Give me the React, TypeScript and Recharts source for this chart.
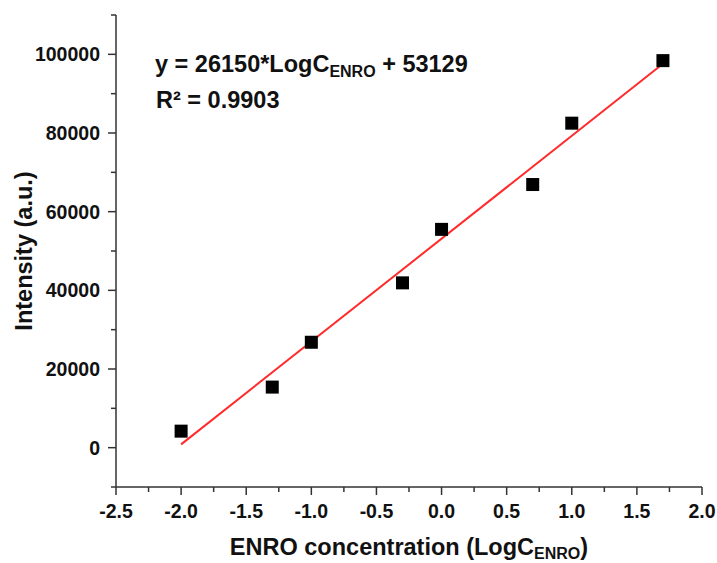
import {
  ComposedChart,
  Scatter,
  Line,
  XAxis,
  YAxis,
} from 'recharts';

// measured points (LogC, intensity)
const logC = [-2.0, -1.3, -1.0, -0.3, 0.0, 0.7, 1.0, 1.7];
const intensity = [4200, 15400, 26800, 41900, 55500, 66900, 82500, 98400];

// linear fit as printed on the chart
const slope = 26150;
const intercept = 53129;
const fitRange = [-2.0, 1.7];

const xTicks = [-2.5, -2.0, -1.5, -1.0, -0.5, 0.0, 0.5, 1.0, 1.5, 2.0];
const yTicks = [0, 20000, 40000, 60000, 80000, 100000];
const yMinorTicks = [-10000, 10000, 30000, 50000, 70000, 90000, 110000];

const points = logC.map((x, i) => ({ x, y: intensity[i] }));
const fitLine = fitRange.map((x) => ({ x, fit: slope * x + intercept }));

const FONT = '"Liberation Sans", Arial, Helvetica, sans-serif';
const AXIS = '#333333';

const Square = (props: any) => {
  const { cx, cy } = props;
  if (cx == null || cy == null) return null;
  return <rect x={cx - 6.5} y={cy - 6.5} width={13} height={13} fill='#000' />;
};

const App = () => {
  return (
    <div style={{ position: 'absolute', left: 0, top: 0, width: 717, height: 563, background: '#fff' }}>
      <ComposedChart
        width={717}
        height={563}
        margin={{ top: 15, right: 15, left: 0, bottom: 0 }}
        style={{ fontFamily: FONT }}
      >
        <XAxis
          type='number'
          dataKey='x'
          domain={[-2.5, 2.0]}
          ticks={xTicks}
          allowDataOverflow
          height={76}
          tickFormatter={(v: number) => v.toFixed(1)}
          tick={{ fontSize: 19.5, fontWeight: 'bold', fill: '#111' }}
          tickSize={8}
          tickMargin={9}
          stroke={AXIS}
          strokeWidth={1.5}
        />
        <YAxis
          type='number'
          domain={[-10000, 110000]}
          ticks={yTicks}
          allowDataOverflow
          width={116}
          tick={{ fontSize: 19.5, fontWeight: 'bold', fill: '#111' }}
          tickSize={8}
          tickMargin={8}
          stroke={AXIS}
          strokeWidth={1.5}
        />
        <Line
          data={fitLine}
          dataKey='fit'
          type='linear'
          stroke='#ff2a2a'
          strokeWidth={2}
          dot={false}
          activeDot={false}
          isAnimationActive={false}
        />
        <Scatter data={points} dataKey='y' shape={Square} isAnimationActive={false} />
      </ComposedChart>
      <svg
        width={717}
        height={563}
        style={{ position: 'absolute', left: 0, top: 0, pointerEvents: 'none', fontFamily: FONT, fontWeight: 'bold' }}
      >
        {/* minor ticks */}
        {xTicks.slice(0, -1).map((t, i) => {
          const px = 116 + ((t + 0.25 + 2.5) / 4.5) * 586;
          return <line key={'mx' + i} x1={px} x2={px} y1={487} y2={492} stroke={AXIS} strokeWidth={1.5} />;
        })}
        {yMinorTicks.map((t, i) => {
          const py = 487 - ((t + 10000) / 120000) * 472;
          return <line key={'my' + i} x1={111} x2={116} y1={py} y2={py} stroke={AXIS} strokeWidth={1.5} />;
        })}
        <text x={155} y={72} fontSize={23.5} fill='#111'>
          y = 26150*LogC
          <tspan fontSize={16} dy={5}>ENRO</tspan>
          <tspan dy={-5}> + 53129</tspan>
        </text>
        <text x={156} y={108} fontSize={23.5} fill='#111'>
          R² = 0.9903
        </text>
        <text x={409} y={555} fontSize={23.5} fill='#111' textAnchor='middle'>
          ENRO concentration (LogC
          <tspan fontSize={16} dy={4}>ENRO</tspan>
          <tspan dy={-4}>)</tspan>
        </text>
        <text x={32} y={251} fontSize={23.5} fill='#111' textAnchor='middle' transform='rotate(-90 32 251)'>
          Intensity (a.u.)
        </text>
      </svg>
    </div>
  );
};

export default App;
